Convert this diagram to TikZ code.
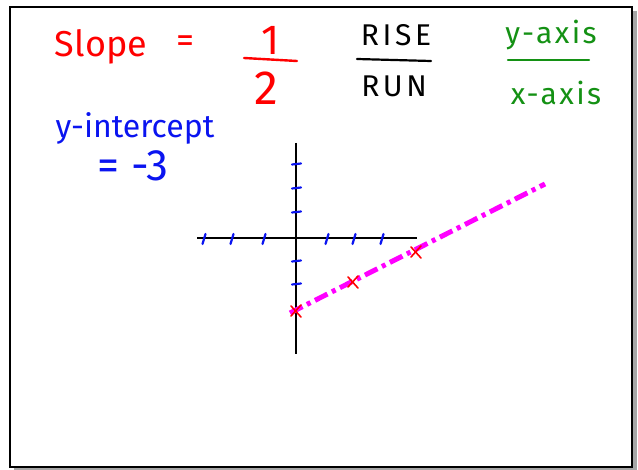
\documentclass[tikz,border=0pt]{standalone}
\usepackage{fontspec}
\setmainfont{Fira Sans}
\definecolor{hred}{RGB}{255,0,0}
\definecolor{hblue}{RGB}{10,20,240}
\definecolor{hgreen}{RGB}{20,145,20}
\definecolor{hmag}{RGB}{255,0,255}
\begin{document}
\begin{tikzpicture}[x=1pt,y=-1pt,
  hand/.style={inner sep=0pt,anchor=center},
  tickx/.style={hblue,line width=2.2pt,line cap=round},
  axis/.style={black,line width=2.6pt}]
\useasboundingbox (0,0) rectangle (638,470);
% frame with shadow
\fill[gray!70] (14,11) rectangle (637,470);
\fill[white] (10,7) rectangle (632,467);
\draw[black,line width=2.5pt] (10,7) rectangle (632,467);
% top texts
\node[hand,text=hred,font=\fontsize{36}{40}\selectfont] (slope) at (101,47) {Slope};
\node[hand,text=hred,font=\fontsize{36}{40}\selectfont] (eq) at (185,44) {=};
\node[hand,text=hred,font=\fontsize{42}{46}\selectfont] (one) at (271,40) {1};
\node[hand,text=hred,font=\fontsize{48}{52}\selectfont] (two) at (266,88) {2};
\coordinate (f1a) at (244,58); \coordinate (f1b) at (297,61);
\draw[hred,line width=2.4pt,line cap=round] (f1a) -- (f1b);
\node[hand,text=black,font=\fontsize{30}{34}\selectfont\addfontfeature{LetterSpace=12}] (rise) at (396,35) {RISE};
\node[hand,text=black,font=\fontsize{30}{34}\selectfont\addfontfeature{LetterSpace=12}] (run) at (394,86) {RUN};
\coordinate (r1) at (357,59); \coordinate (r2) at (431,61);
\draw[black,line width=2.2pt,line cap=round] (r1) -- (r2);
\node[hand,text=hgreen,font=\fontsize{30}{34}\selectfont\addfontfeature{LetterSpace=8}] (yax) at (551,35) {y-axis};
\node[hand,text=hgreen,font=\fontsize{30}{34}\selectfont\addfontfeature{LetterSpace=8}] (xax) at (556,93) {x-axis};
\coordinate (g1) at (508,60); \coordinate (g2) at (589,60);
\draw[hgreen,line width=2.4pt,line cap=round] (g1) -- (g2);
\node[hand,text=hblue,font=\fontsize{32}{36}\selectfont] (yint) at (135,128) {y-intercept};
\node[hand,text=hblue,font=\fontsize{44}{48}\selectfont] (m3) at (133,166) {= -3};
% axes
\coordinate (yt) at (296,143); \coordinate (yb) at (296,354);
\coordinate (xl) at (197,238); \coordinate (xr) at (417,238);
\draw[axis] (yt) -- (yb);
\draw[axis] (xl) -- (xr);
% ticks on x axis
\foreach \x in {204,232,264,327,354,382}
  \draw[tickx] (\x+1.5,234) -- (\x-1.5,244);
% ticks on y axis
\foreach \y in {164,188,212,261,284}
  \draw[tickx] (292,\y+0.5) -- (301,\y-0.5);
% magenta line
\coordinate (p0) at (290,313); \coordinate (p1) at (545,184);
\draw[hmag,line width=5pt,dash pattern=on 14pt off 5pt on 4pt off 5pt] (p0) -- (p1);
% red crosses
\foreach \cx/\cy in {296/311,353/282,416/252}{
  \draw[hred,line width=1.6pt,line cap=round] (\cx-5,\cy-5) -- (\cx+5,\cy+6);
  \draw[hred,line width=1.6pt,line cap=round] (\cx+5,\cy-6) -- (\cx-5,\cy+5);
}
\end{tikzpicture}
\end{document}
